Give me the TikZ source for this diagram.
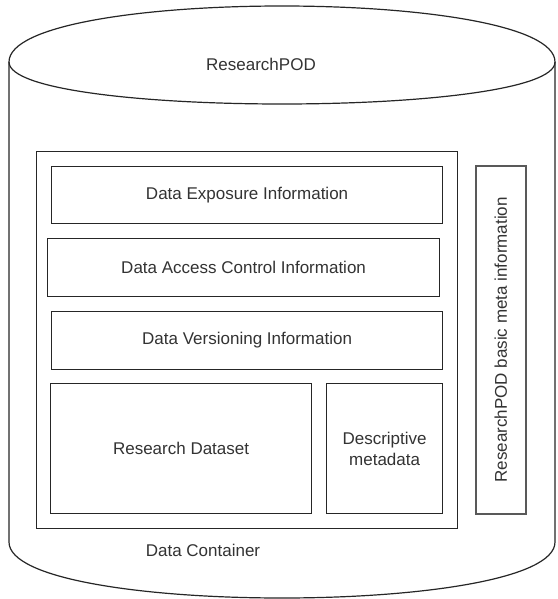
\documentclass[tikz,border=0pt]{standalone}
\usepackage{fontspec}
\setmainfont{Liberation Sans}
\begin{document}
\begin{tikzpicture}[x=1pt,y=-1pt,
  line width=1.2pt,
  txt/.style={text=black!80, font=\fontsize{17}{21}\selectfont, align=center},
  box/.style={draw=black!85, line width=1.2pt, inner sep=0pt, txt},
]
\useasboundingbox (0,0) rectangle (557,599);
% cylinder
\draw[black!85, fill=white]
  (9,62) .. controls (9,{6-56/3}) and (555,{6-56/3}) .. (555,62)
  -- (555,542) .. controls (555,{598+56/3}) and (9,{598+56/3}) .. (9,542) -- cycle;
\draw[black!85] (9,62) .. controls (9,118) and (555,118) .. (555,62);
\node[txt] (title) at (261,64) {ResearchPOD};
% data container
\node[box, minimum width=421pt, minimum height=377pt, anchor=north west] (dc) at (36,151) {};
\node[txt] (dclabel) at (203,550) {Data Container};
% inner boxes
\node[box, minimum width=391pt, minimum height=57pt, anchor=north west] (exp) at (51,166) {Data Exposure Information};
\node[box, minimum width=392pt, minimum height=58pt, anchor=north west] (acc) at (47,238) {Data Access Control Information};
\node[box, minimum width=391pt, minimum height=58pt, anchor=north west] (ver) at (51,311) {Data Versioning Information};
\node[box, minimum width=261pt, minimum height=130pt, anchor=north west] (rd) at (50,383) {Research Dataset};
\node[box, minimum width=116pt, minimum height=130pt, anchor=north west] (dm) at (326,383) {Descriptive\\metadata};
% side box
\node[box, draw=black!65, line width=1.6pt, minimum width=50pt, minimum height=348pt, anchor=north west] (meta) at (475,165) {};
\node[txt, rotate=90] (metalabel) at (meta.center) {ResearchPOD basic meta information};
\end{tikzpicture}
\end{document}
